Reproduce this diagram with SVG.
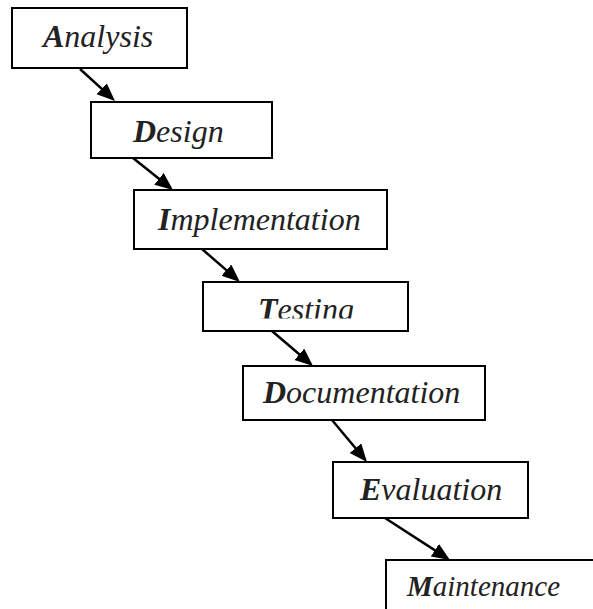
<svg xmlns="http://www.w3.org/2000/svg" width="593" height="609" viewBox="0 0 593 609">
  <style>
    .box { fill: #fff; stroke: #000; stroke-width: 2; }
    .lbl { font-family: "Liberation Serif", "Times New Roman", serif; font-style: italic; font-size: 32px; fill: #222; }
    .lbl .b { font-weight: bold; }
    .arrow { stroke: #000; stroke-width: 2.5; fill: none; marker-end: url(#head); }
  </style>
  <defs>
    <marker id="head" markerUnits="userSpaceOnUse" markerWidth="20" markerHeight="16" refX="8" refY="7.5" orient="auto">
      <path d="M0,0 L18,7.5 L0,15 z" fill="#000"/>
    </marker>
    <clipPath id="clipTesting">
      <rect x="203" y="282" width="205" height="36.5"/>
    </clipPath>
  </defs>
  <rect width="593" height="609" fill="#fff"/>

  <g id="connectors">
    <line class="arrow" x1="80" y1="69" x2="107.6" y2="94.2"/>
    <line class="arrow" x1="133" y1="158" x2="165.2" y2="183.8"/>
    <line class="arrow" x1="202" y1="249" x2="232.4" y2="275.4"/>
    <line class="arrow" x1="272" y1="331" x2="305.4" y2="359.5"/>
    <line class="arrow" x1="332" y1="420" x2="360.6" y2="454.3"/>
    <line class="arrow" x1="385" y1="518" x2="441.6" y2="554.6"/>
  </g>

  <g id="analysis">
    <rect class="box" x="12" y="8" width="175" height="60"/>
    <text class="lbl" x="43" y="47"><tspan class="b">A</tspan>nalysis</text>
  </g>
  <g id="design">
    <rect class="box" x="91" y="102" width="181" height="56"/>
    <text class="lbl" x="133" y="142"><tspan class="b">D</tspan>esign</text>
  </g>
  <g id="implementation">
    <rect class="box" x="134" y="190" width="253" height="59"/>
    <text class="lbl" x="158" y="230"><tspan class="b">I</tspan>mplementation</text>
  </g>
  <g id="testing">
    <rect class="box" x="203" y="282" width="205" height="49"/>
    <text class="lbl" x="258" y="320" clip-path="url(#clipTesting)"><tspan class="b">T</tspan>esting</text>
  </g>
  <g id="documentation">
    <rect class="box" x="243" y="366" width="242" height="54"/>
    <text class="lbl" x="263" y="403"><tspan class="b">D</tspan>ocumentation</text>
  </g>
  <g id="evaluation">
    <rect class="box" x="333" y="462" width="195" height="56"/>
    <text class="lbl" x="360" y="500"><tspan class="b">E</tspan>valuation</text>
  </g>
  <g id="maintenance">
    <rect class="box" x="386" y="560" width="230" height="70"/>
    <text class="lbl" x="407" y="596" style="font-size:29px"><tspan class="b">M</tspan>aintenance</text>
  </g>
</svg>
